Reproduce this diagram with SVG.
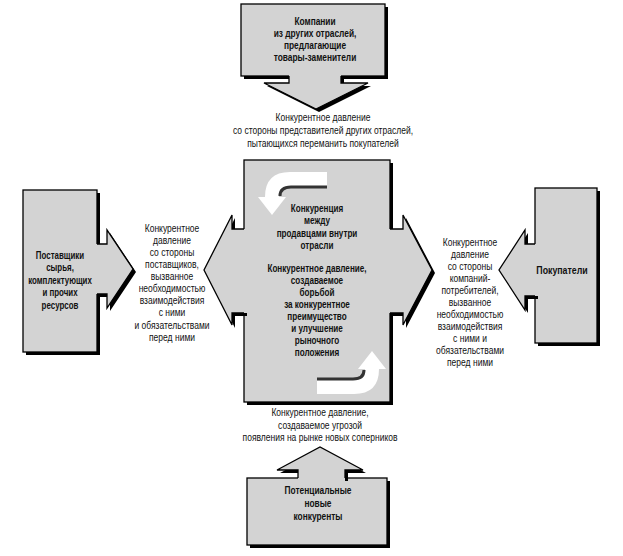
<svg xmlns="http://www.w3.org/2000/svg" width="623" height="556" viewBox="0 0 623 556">
<style>
.bg{fill:#ffffff}
.shadow{fill:#000000}
.body{fill:#d3d3d3;stroke:#000;stroke-width:1.3;stroke-linejoin:miter}
.afill{fill:#d3d3d3;stroke:none}
.aline{fill:none;stroke:#000;stroke-width:1.3;stroke-linejoin:miter}
.curl{fill:#ffffff;stroke:none}
.curlsh{fill:none;stroke:#333;stroke-width:3}
text{font-family:"Liberation Sans",Arial,sans-serif;fill:#111;text-anchor:middle}
.lbl{font-size:11.5px}
.bx{font-size:11px;font-weight:bold}
</style>
<rect class="bg" x="0" y="0" width="623" height="556"/>

<g id="substitutes">
<rect class="shadow" x="244" y="7" width="144" height="72"/>
<rect class="body" x="241" y="4" width="144" height="72"/>
</g>

<g id="rivalry">
<rect class="shadow" x="247" y="163" width="146" height="242"/>
<rect class="body" x="244" y="160" width="146" height="242"/>
<path class="curl" d="M327,172 L290,172 Q265,172 265,197 L258,197 L272,215 L286,197 L279,197 Q279,186 290,186 L327,186 Z"/>
<path class="curlsh" d="M280,196 Q280,187 291,187 L327,187"/>
<g transform="rotate(180,322,283)">
<path class="curl" d="M327,172 L290,172 Q265,172 265,197 L258,197 L272,215 L286,197 L279,197 Q279,186 290,186 L327,186 Z"/>
<path class="curlsh" d="M280,196 Q280,187 291,187 L327,187"/>
</g>
</g>

<g id="suppliers">
<rect class="shadow" x="26" y="193" width="74" height="162"/>
<rect class="body" x="23" y="190" width="74" height="162"/>
</g>

<g id="buyers">
<rect class="shadow" x="538" y="191" width="62" height="155"/>
<rect class="body" x="535" y="188" width="62" height="155"/>
</g>

<g id="entrants">
<rect class="shadow" x="250" y="481" width="140" height="67"/>
<rect class="body" x="247" y="478" width="140" height="67"/>
</g>

<g id="connectors">
<polygon class="shadow" points="292,79 292,86 267,86 319,112 371,86 344,86 344,79"/>
<polygon class="shadow" points="235,232 235,218 207,273 235,328 235,316 247,316 247,232"/>
<polygon class="shadow" points="393,232 406,232 406,218 435,273 406,328 406,316 393,316"/>
<polygon class="shadow" points="100,247 110,247 110,233 136,272 110,311 110,297 100,297"/>
<polygon class="shadow" points="538,247 528,247 528,233 502,273 528,313 528,299 538,299"/>
<polygon class="shadow" points="301,481 301,473 280,473 323,450 366,473 348,473 348,481"/>
<polygon class="afill" points="289,73 289,83 264,83 316,109 368,83 341,83 341,73"/>
<polygon class="afill" points="247,229 232,229 232,215 204,270 232,325 232,313 247,313"/>
<polygon class="afill" points="387,229 403,229 403,215 432,270 403,325 403,313 387,313"/>
<polygon class="afill" points="94,244 107,244 107,230 133,269 107,308 107,294 94,294"/>
<polygon class="afill" points="538,244 525,244 525,230 499,270 525,310 525,296 538,296"/>
<polygon class="afill" points="298,481 298,470 277,470 320,447 363,470 345,470 345,481"/>
<polyline class="aline" points="289,76 289,83 264,83 316,109 368,83 341,83 341,76"/>
<polyline class="aline" points="244,229 232,229 232,215 204,270 232,325 232,313 244,313"/>
<polyline class="aline" points="390,229 403,229 403,215 432,270 403,325 403,313 390,313"/>
<polyline class="aline" points="97,244 107,244 107,230 133,269 107,308 107,294 97,294"/>
<polyline class="aline" points="535,244 525,244 525,230 499,270 525,310 525,296 535,296"/>
<polyline class="aline" points="298,478 298,470 277,470 320,447 363,470 345,470 345,478"/>
</g>

<g id="node-texts">
<text class="bx" transform="translate(315,0) scale(0.76,1)"><tspan x="0" y="25">Компании</tspan><tspan x="0" y="37">из других отраслей,</tspan><tspan x="0" y="49">предлагающие</tspan><tspan x="0" y="61">товары-заменители</tspan></text>
<text class="bx" transform="translate(317,0) scale(0.74,1)"><tspan x="0" y="212">Конкуренция</tspan><tspan x="0" y="224.5">между</tspan><tspan x="0" y="237">продавцами внутри</tspan><tspan x="0" y="249.5">отрасли</tspan><tspan x="0" y="272">Конкурентное давление,</tspan><tspan x="0" y="284">создаваемое</tspan><tspan x="0" y="296">борьбой</tspan><tspan x="0" y="308">за конкурентное</tspan><tspan x="0" y="320">преимущество</tspan><tspan x="0" y="332">и улучшение</tspan><tspan x="0" y="344">рыночного</tspan><tspan x="0" y="356">положения</tspan></text>
<text class="bx" transform="translate(60,0) scale(0.72,1)"><tspan x="0" y="259">Поставщики</tspan><tspan x="0" y="271">сырья,</tspan><tspan x="0" y="284">комплектующих</tspan><tspan x="0" y="296">и прочих</tspan><tspan x="0" y="309">ресурсов</tspan></text>
<text class="bx" transform="translate(562,0) scale(0.8,1)"><tspan x="0" y="274">Покупатели</tspan></text>
<text class="bx" transform="translate(318,0) scale(0.76,1)"><tspan x="0" y="494">Потенциальные</tspan><tspan x="0" y="507">новые</tspan><tspan x="0" y="520">конкуренты</tspan></text>
</g>

<g id="labels">
<text class="lbl" transform="translate(323,0) scale(0.74,1)"><tspan x="0" y="121">Конкурентное давление</tspan><tspan x="0" y="134">со стороны представителей других отраслей,</tspan><tspan x="0" y="147">пытающихся переманить покупателей</tspan></text>
<text class="lbl" transform="translate(172,0) scale(0.74,1)"><tspan x="0" y="232">Конкурентное</tspan><tspan x="0" y="244">давление</tspan><tspan x="0" y="256">со стороны</tspan><tspan x="0" y="268">поставщиков,</tspan><tspan x="0" y="280">вызванное</tspan><tspan x="0" y="292">необходимостью</tspan><tspan x="0" y="304">взаимодействия</tspan><tspan x="0" y="316">с ними</tspan><tspan x="0" y="329">и обязательствами</tspan><tspan x="0" y="341">перед ними</tspan></text>
<text class="lbl" transform="translate(470,0) scale(0.74,1)"><tspan x="0" y="246">Конкурентное</tspan><tspan x="0" y="258">давление</tspan><tspan x="0" y="270">со стороны</tspan><tspan x="0" y="282">компаний-</tspan><tspan x="0" y="294">потребителей,</tspan><tspan x="0" y="306">вызванное</tspan><tspan x="0" y="318">необходимостью</tspan><tspan x="0" y="330">взаимодействия</tspan><tspan x="0" y="342">с ними и</tspan><tspan x="0" y="354">обязательствами</tspan><tspan x="0" y="366">перед ними</tspan></text>
<text class="lbl" transform="translate(320,0) scale(0.74,1)"><tspan x="0" y="416">Конкурентное давление,</tspan><tspan x="0" y="429">создаваемое угрозой</tspan><tspan x="0" y="441">появления на рынке новых соперников</tspan></text>
</g>
</svg>
